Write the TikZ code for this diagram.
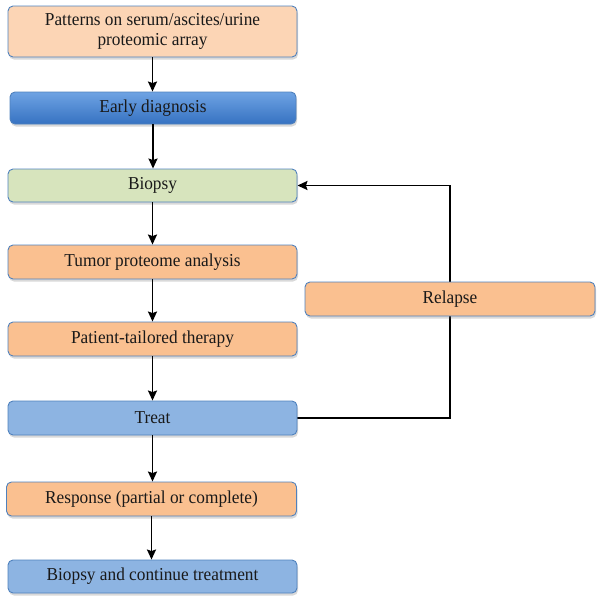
\documentclass[tikz,border=0pt]{standalone}
\usepackage{fontspec}
\setmainfont{Liberation Serif}[FakeStretch=0.95]
\usetikzlibrary{arrows.meta,shadows,backgrounds}
\definecolor{bordc}{HTML}{4F81BD}
\definecolor{peach}{HTML}{FCD5B5}
\definecolor{orng}{HTML}{FAC090}
\definecolor{grn}{HTML}{D7E4BD}
\definecolor{lblue}{HTML}{8DB4E2}
\definecolor{gtop}{HTML}{6EA3E3}
\definecolor{gbot}{HTML}{3672C2}
\tikzset{
  box/.style={draw=bordc, line width=0.9pt, rounded corners=5pt, minimum width=289pt,
    minimum height=34pt, inner sep=0pt, align=center, text=black!90,
    font=\fontsize{18.2}{19.5}\selectfont,
    drop shadow={shadow xshift=1pt, shadow yshift=-2.5pt, opacity=0.25, fill=black!60}},
  arr/.style={line width=1.8pt, -{Stealth[length=10pt,width=9pt,inset=1.5pt]}}
}
\begin{document}
\begin{tikzpicture}[x=1pt,y=-1pt]
\useasboundingbox (0,0) rectangle (601,603);
\node[box, fill=peach, minimum height=51pt] (pat) at (152.5,31.5) {Patterns on serum/ascites/urine\\proteomic array};
\node[box, top color=gtop, bottom color=gbot, minimum width=286pt, minimum height=32pt] (early) at (153,108) {Early diagnosis};
\node[box, fill=grn, minimum height=33pt] (biopsy) at (152.5,185.5) {Biopsy};
\node[box, fill=orng] (tumor) at (152.5,262) {Tumor proteome analysis};
\node[box, fill=orng] (patient) at (152.5,339) {Patient-tailored therapy};
\node[box, fill=lblue] (treat) at (152.5,418) {Treat};
\node[box, fill=orng, minimum width=290pt] (resp) at (151.5,499) {Response (partial or complete)};
\node[box, fill=lblue, minimum height=33pt] (cont) at (152.5,576.5) {Biopsy and continue treatment};
\node[box, fill=orng, minimum width=290pt] (relapse) at (450,299) {Relapse};

\draw[arr] (pat.south) -- (pat.south |- early.north);
\draw[arr] (early.south) -- (early.south |- biopsy.north);
\draw[arr] (biopsy.south) -- (biopsy.south |- tumor.north);
\draw[arr] (tumor.south) -- (tumor.south |- patient.north);
\draw[arr] (patient.south) -- (patient.south |- treat.north);
\draw[arr] (treat.south) -- (treat.south |- resp.north);
\draw[arr] (resp.south) -- (resp.south |- cont.north);
\begin{scope}[on background layer]
\draw[arr] (treat.east) -| (relapse.center) |- (biopsy.east);
\end{scope}
\end{tikzpicture}
\end{document}
